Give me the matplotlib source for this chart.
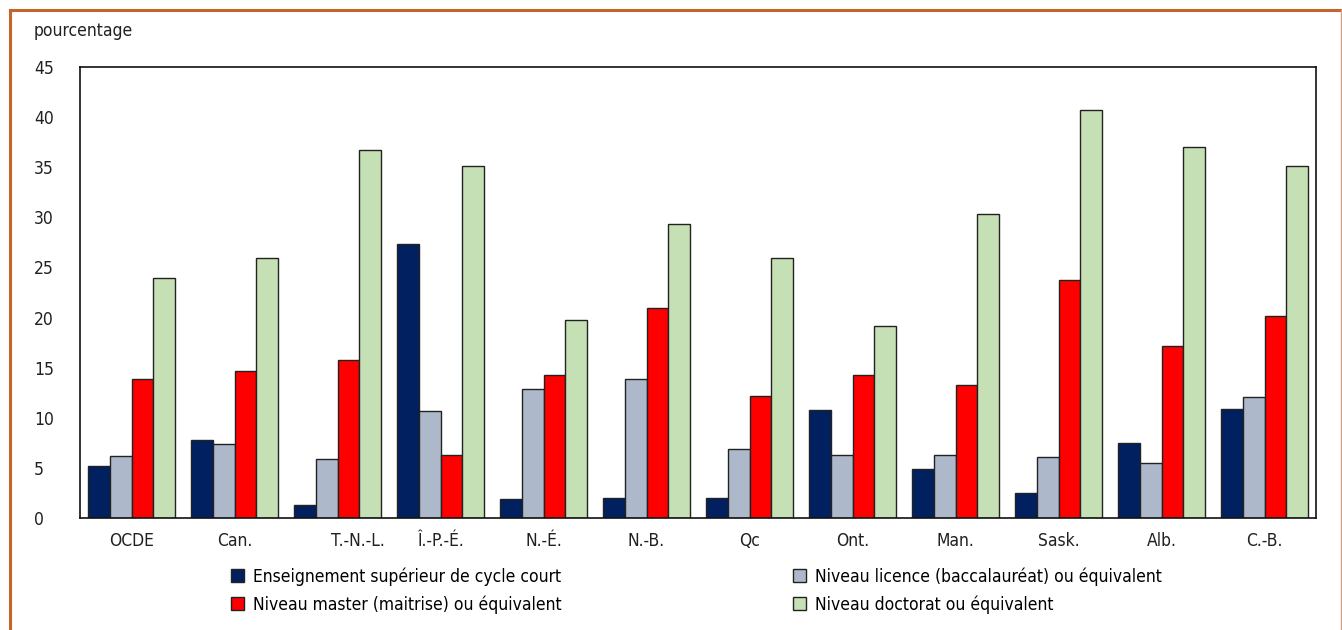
import matplotlib.pyplot as plt
import matplotlib.transforms as mtransforms
from matplotlib.lines import Line2D
import numpy as np

plt.rcParams['font.family'] = ['DejaVu Sans']
plt.rcParams['font.stretch'] = 'condensed'

categories = ['OCDE', 'Can.', 'T.-N.-L.', 'Î.-P.-É.', 'N.-É.', 'N.-B.',
              'Qc', 'Ont.', 'Man.', 'Sask.', 'Alb.', 'C.-B.']
cycle_court = [5.2, 7.8, 1.3, 27.3, 1.9, 2.0, 2.0, 10.8, 4.9, 2.5, 7.5, 10.9]
licence = [6.2, 7.4, 5.9, 10.7, 12.9, 13.9, 6.9, 6.3, 6.3, 6.1, 5.5, 12.1]
master = [13.9, 14.7, 15.8, 6.3, 14.3, 21.0, 12.2, 14.3, 13.3, 23.7, 17.2, 20.2]
doctorat = [23.9, 25.9, 36.7, 35.1, 19.8, 29.3, 25.9, 19.2, 30.3, 40.7, 37.0, 35.1]

series = [cycle_court, licence, master, doctorat]
labels = ['Enseignement supérieur de cycle court',
          'Niveau licence (baccalauréat) ou équivalent',
          'Niveau master (maitrise) ou équivalent',
          'Niveau doctorat ou équivalent']
colors = ['#002060', '#ADB9CA', '#FF0000', '#C5E0B4']

W, H = 1342, 630
fig = plt.figure(figsize=(W / 100, H / 100), dpi=100)
ax = fig.add_axes([80 / W, (H - 518) / H, (1316 - 80) / W, (518 - 67) / H])

x = np.arange(len(categories))
bw = 0.844 / 4
bars = []
for i, (vals, col) in enumerate(zip(series, colors)):
    b = ax.bar(x - 1.5 * bw + i * bw, vals, bw, color=col,
               edgecolor='#222222', linewidth=1.0, label=labels[i])
    bars.append(b)

fs = 12.5
ax.set_xlim(-0.5, len(categories) - 0.5)
ax.set_ylim(0, 45)
ax.set_yticks(range(0, 50, 5))
ax.set_xticks(x)
ax.set_xticklabels(categories, fontsize=fs, color='#231F20')
ax.tick_params(axis='x', length=0, pad=10)
ax.tick_params(axis='y', length=0, pad=33, labelsize=fs, labelcolor='#231F20')
for t in ax.get_yticklabels():
    t.set_horizontalalignment('left')
# the T.-N.-L. label sits a little right of its group in the original
lab = ax.get_xticklabels()[2]
lab.set_transform(lab.get_transform() +
                  mtransforms.ScaledTranslation(0.2, 0, fig.dpi_scale_trans))
for s in ax.spines.values():
    s.set_linewidth(1.2)
    s.set_color('#111111')

fig.text(34 / W, 1 - 31 / H, 'pourcentage', fontsize=fs, color='#231F20',
         va='center', ha='left')

leg_kw = dict(frameon=False, fontsize=fs, handlelength=0.75, handleheight=0.75,
              handletextpad=0.5, labelspacing=0.55, borderaxespad=0, borderpad=0)
fig.legend([bars[0], bars[2]], [labels[0], labels[2]], loc='upper left',
           bbox_to_anchor=(231 / W, 1 - 567 / H), **leg_kw)
fig.legend([bars[1], bars[3]], [labels[1], labels[3]], loc='upper left',
           bbox_to_anchor=(793 / W, 1 - 567 / H), **leg_kw)

orange = '#C5652B'
fig.add_artist(Line2D([9.5 / W, 9.5 / W], [0, 1 - 9.5 / H], color=orange, lw=2.2,
                      transform=fig.transFigure))
fig.add_artist(Line2D([9.5 / W, 1340.5 / W], [1 - 9.5 / H, 1 - 9.5 / H], color=orange,
                      lw=2.2, transform=fig.transFigure))
fig.add_artist(Line2D([1340.5 / W, 1340.5 / W], [0, 1 - 9.5 / H], color='#D9A07E',
                      lw=1.0, transform=fig.transFigure))

fig.savefig('out.png', dpi=100)
